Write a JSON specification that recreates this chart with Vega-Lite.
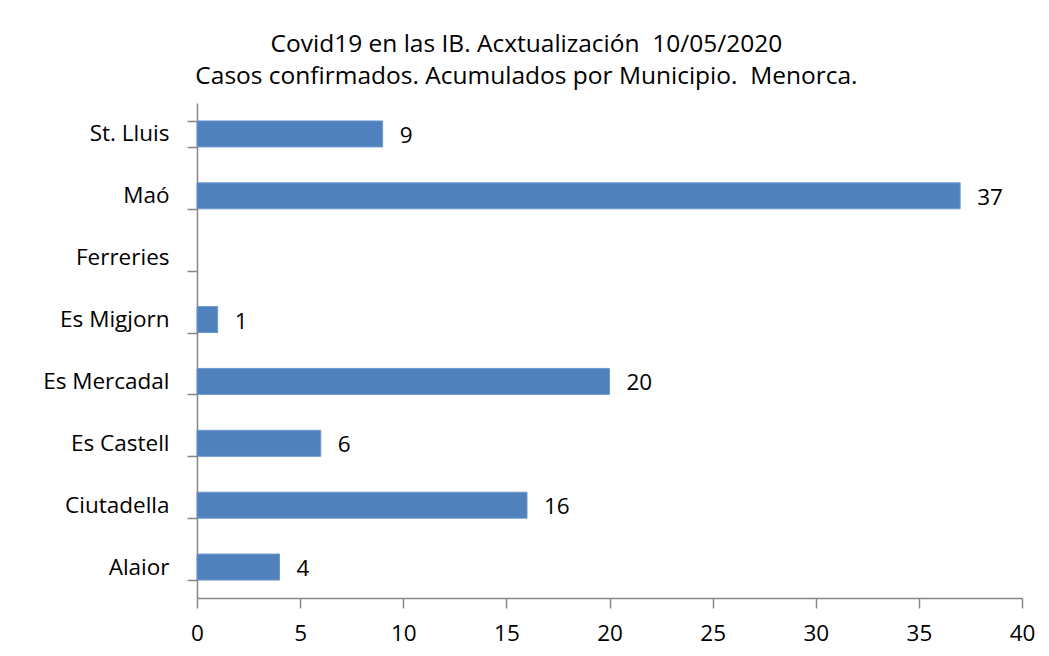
{
  "$schema": "https://vega.github.io/schema/vega-lite/v6.json",
  "width": 825,
  "height": 495,
  "padding": {"left": 0, "top": 31, "right": 10, "bottom": 5},
  "background": "white",
  "title": {
    "text": ["Covid19 en las IB. Acxtualización \u00a010/05/2020", "Casos confirmados. Acumulados por Municipio. \u00a0Menorca."],
    "font": "Open Sans",
    "fontSize": 24.5,
    "fontWeight": "normal",
    "color": "#000000",
    "lineHeight": 32,
    "anchor": "middle",
    "frame": "bounds",
    "dx": 9,
    "offset": 3
  },
  "data": {
    "values": [
      {"municipio": "St. Lluis", "casos": 9},
      {"municipio": "Maó", "casos": 37},
      {"municipio": "Ferreries", "casos": null},
      {"municipio": "Es Migjorn", "casos": 1},
      {"municipio": "Es Mercadal", "casos": 20},
      {"municipio": "Es Castell", "casos": 6},
      {"municipio": "Ciutadella", "casos": 16},
      {"municipio": "Alaior", "casos": 4}
    ]
  },
  "encoding": {
    "y": {
      "field": "municipio",
      "type": "nominal",
      "sort": null,
      "title": null,
      "scale": {
        "domain": ["St. Lluis", "Maó", "Ferreries", "Es Migjorn", "Es Mercadal", "Es Castell", "Ciutadella", "Alaior"],
        "paddingInner": 0.58,
        "paddingOuter": 0.29
      },
      "axis": {
        "domainColor": "#868686",
        "domainWidth": 1.5,
        "tickColor": "#868686",
        "tickWidth": 1.5,
        "tickSize": 10,
        "tickBand": "extent",
        "labelFont": "Open Sans",
        "labelFontSize": 22.5,
        "labelColor": "#000000",
        "labelPadding": 18,
        "minExtent": 197,
        "maxExtent": 197,
        "grid": false
      }
    },
    "x": {
      "field": "casos",
      "type": "quantitative",
      "title": null,
      "scale": {"domain": [0, 40], "nice": false},
      "axis": {
        "values": [0, 5, 10, 15, 20, 25, 30, 35, 40],
        "domainColor": "#868686",
        "domainWidth": 1.5,
        "tickColor": "#868686",
        "tickWidth": 1.5,
        "tickSize": 10,
        "labelFont": "Open Sans",
        "labelFontSize": 22.5,
        "labelColor": "#000000",
        "labelPadding": 14,
        "labelFlush": false,
        "grid": false
      }
    }
  },
  "layer": [
    {
      "mark": {"type": "bar", "color": "#4f81bd", "stroke": "#6f97cc", "strokeWidth": 1}
    },
    {
      "mark": {"type": "text", "align": "left", "baseline": "middle", "dx": 17, "dy": 2, "font": "Open Sans", "fontSize": 22.5, "color": "#000000"},
      "encoding": {"text": {"field": "casos", "type": "quantitative"}}
    }
  ],
  "config": {
    "view": {"stroke": null}
  }
}
